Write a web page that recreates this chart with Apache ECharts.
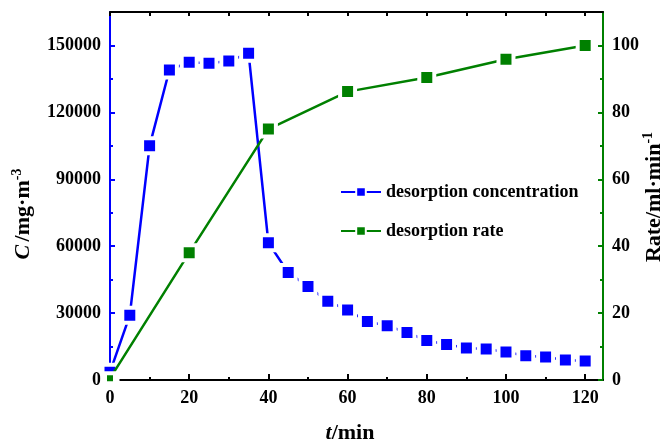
<!DOCTYPE html>
<html>
<head>
<meta charset="utf-8">
<script src="https://cdn.jsdelivr.net/npm/echarts@6/dist/echarts.min.js"></script>
<style>
html,body{margin:0;padding:0;background:#fff;}
#chart{width:667px;height:443px;}
</style>
</head>
<body>
<div id="chart"></div>
<script>
var concTime = [0,5,10,15,20,25,30,35,40,45,50,55,60,65,70,75,80,85,90,95,100,105,110,115,120];
var concValues = [3500,29000,105000,139000,142500,142000,143000,146500,61500,48200,41900,35300,31400,26200,24300,21300,17700,15900,14400,13900,12600,10900,10300,9000,8500];
var rateTime = [0,20,40,60,80,100,120];
var rateValues = [0.5,38,75,86.2,90.4,95.9,100];
var xMajorTicks = [0,20,40,60,80,100,120];
var xMinorTicks = [10,30,50,70,90,110];
var xTopTicks = [0,10,20,30,40,50,60,70,80,90,100,110,120];
var cMajorTicks = [0,30000,60000,90000,120000,150000];
var cMinorTicks = [15000,45000,75000,105000,135000];
var rMajorTicks = [0,20,40,60,80,100];
var rMinorTicks = [10,30,50,70,90];
var seriesNames = ['desorption concentration','desorption rate'];

var FONT = '"Liberation Serif","Times New Roman",serif';
var X_MIN = 0, X_MAX = 124.5, C_MAX = 165000, R_MAX = 110;

function pair(xs, ys){ return xs.map(function(x,i){return [x, ys[i]];}); }
function plain(v){ return String(v); }

function labelCfg(ticks){
  return {show:true, customValues:ticks, margin:9, color:'#000', fontFamily:FONT, fontWeight:'bold', fontSize:18, formatter:plain};
}
function xAx(pos, ticks, len, showLine, labels){
  return {
    type:'value', position:pos, min:X_MIN, max:X_MAX, interval:10,
    axisLine:{show:showLine, onZero:false, lineStyle:{color:'#000', width:2}},
    axisTick:{show:true, inside:true, length:len, customValues:ticks, lineStyle:{color:'#000', width:2}},
    axisLabel:labels ? labelCfg(ticks) : {show:false},
    splitLine:{show:false}
  };
}
function yAx(pos, max, color, ticks, len, showLine, labels){
  return {
    type:'value', position:pos, min:0, max:max,
    axisLine:{show:showLine, onZero:false, lineStyle:{color:color, width:2}},
    axisTick:{show:true, inside:true, length:len, customValues:ticks, lineStyle:{color:color, width:2}},
    axisLabel:labels ? labelCfg(ticks) : {show:false},
    splitLine:{show:false}
  };
}

var chart = echarts.init(document.getElementById('chart'), null, {renderer:'canvas'});
chart.setOption({
  animation:false,
  backgroundColor:'#fff',
  grid:{left:110, right:64, top:12, bottom:63, containLabel:false, outerBoundsMode:'none'},
  legend:{
    orient:'vertical', left:335, top:177, itemWidth:40, itemHeight:12, itemGap:19,
    data:seriesNames,
    textStyle:{fontFamily:FONT, fontWeight:'bold', fontSize:18, color:'#000', lineHeight:20}
  },
  xAxis:[
    xAx('bottom', xMajorTicks, 6, true, true),
    xAx('bottom', xMinorTicks, 3, false, false),
    xAx('top', xTopTicks, 4, true, false)
  ],
  yAxis:[
    yAx('left', C_MAX, '#0000ff', cMajorTicks, 5, true, true),
    yAx('left', C_MAX, '#0000ff', cMinorTicks, 3, false, false),
    yAx('right', R_MAX, '#008000', rMajorTicks, 5, true, true),
    yAx('right', R_MAX, '#008000', rMinorTicks, 3, false, false)
  ],
  series:[
    {
      name:seriesNames[0], type:'line', xAxisIndex:0, yAxisIndex:0,
      data:pair(concTime, concValues),
      symbol:'rect', symbolSize:15, clip:false,
      lineStyle:{color:'#0000ff', width:2.5},
      itemStyle:{color:'#0000ff', borderColor:'#fff', borderWidth:4},
      z:3
    },
    {
      name:seriesNames[1], type:'line', xAxisIndex:0, yAxisIndex:2,
      data:pair(rateTime, rateValues),
      symbol:'rect',
      symbolSize:function(v, p){ return p.dataIndex === 0 ? 10 : 15; },
      clip:false,
      lineStyle:{color:'#008000', width:2.5},
      itemStyle:{color:'#008000', borderColor:'#fff', borderWidth:4},
      z:4
    }
  ],
  graphic:[
    {
      type:'text', x:23, y:214, rotation:Math.PI/2,
      style:{
        text:'{i|C} {n|/mg·m}{s|-3}',
        align:'center', verticalAlign:'middle',
        rich:{
          i:{fontFamily:FONT, fontWeight:'bold', fontStyle:'italic', fontSize:22, fill:'#000'},
          n:{fontFamily:FONT, fontWeight:'bold', fontSize:22, fill:'#000'},
          s:{fontFamily:FONT, fontWeight:'bold', fontSize:14, fill:'#000', padding:[0,0,12,0]}
        }
      }
    },
    {
      type:'text', x:654, y:197, rotation:Math.PI/2,
      style:{
        text:'{n|Rate/ml·min}{s|-1}',
        align:'center', verticalAlign:'middle',
        rich:{
          n:{fontFamily:FONT, fontWeight:'bold', fontSize:22, fill:'#000'},
          s:{fontFamily:FONT, fontWeight:'bold', fontSize:14, fill:'#000', padding:[0,0,12,0]}
        }
      }
    },
    {
      type:'text', x:350, y:433,
      style:{
        text:'{i|t}{n|/min}',
        align:'center', verticalAlign:'middle',
        rich:{
          i:{fontFamily:FONT, fontWeight:'bold', fontStyle:'italic', fontSize:22, fill:'#000'},
          n:{fontFamily:FONT, fontWeight:'bold', fontSize:22, fill:'#000'}
        }
      }
    }
  ]
});
</script>
</body>
</html>
